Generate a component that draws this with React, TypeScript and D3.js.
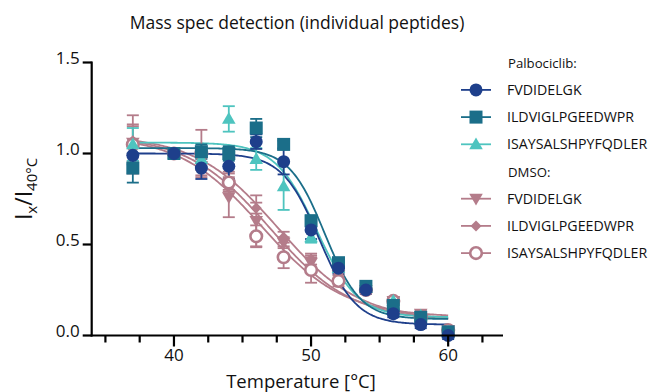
import React from "react";
import * as d3 from "d3";

const temps = [37, 40, 42, 44, 46, 48, 50, 52, 54, 56, 58, 60];

const palboFVD = [0.99, 1.0, 0.92, 0.93, 1.065, 0.955, 0.58, 0.37, 0.25, 0.12, 0.06, 0.0];
const palboFVDErr = [0.05, 0, 0.06, 0.07, 0.04, 0.07, 0.05, 0.03, 0.02, 0.02, 0.02, 0.02];
const palboILD = [0.92, 1.0, 1.01, 1.0, 1.14, 1.05, 0.63, 0.4, 0.27, 0.165, 0.1, 0.02];
const palboILDErr = [0.08, 0, 0.04, 0.04, 0.05, 0.02, 0.03, 0.02, 0.02, 0.02, 0.02, 0.02];
const palboISA = [1.05, 1.0, 0.97, 1.19, 0.97, 0.82, 0.54, 0.37, 0.26, 0.19, 0.11, 0.02];
const palboISAErr = [0.09, 0, 0.05, 0.07, 0.06, 0.13, 0.03, 0.02, 0.02, 0.02, 0.02, 0.02];

const dmsoFVD = [1.06, 1.0, 0.93, 0.76, 0.63, 0.51, 0.4, 0.33, 0.25, 0.19, 0.12, 0.03];
const dmsoFVDErr = [0.1, 0, 0.05, 0.11, 0.14, 0.03, 0.04, 0.03, 0.02, 0.02, 0.02, 0.02];
const dmsoILD = [1.07, 1.0, 0.97, 0.85, 0.7, 0.54, 0.42, 0.33, 0.26, 0.19, 0.11, 0.03];
const dmsoILDErr = [0.08, 0, 0.06, 0.05, 0.03, 0.03, 0.03, 0.02, 0.02, 0.02, 0.02, 0.02];
const dmsoISA = [1.05, 1.0, 1.0, 0.84, 0.545, 0.43, 0.36, 0.3, 0.25, 0.19, 0.1, 0.03];
const dmsoISAErr = [0.16, 0, 0.13, 0.05, 0.06, 0.06, 0.07, 0.03, 0.02, 0.02, 0.02, 0.02];

// Boltzmann fit parameters [top, bottom, Tm, slope]
const fitPalboFVD = [1.0, 0.06, 50.6, 1.35];
const fitPalboILD = [1.03, 0.09, 51.0, 1.3];
const fitPalboISA = [1.06, 0.1, 50.4, 1.5];
const fitDmsoFVD = [1.1, 0.08, 47.0, 3.0];
const fitDmsoILD = [1.1, 0.08, 47.6, 3.0];
const fitDmsoISA = [1.1, 0.1, 46.4, 3.0];

const xTicksMajor = [40, 50, 60];
const xTicksMinor = [35, 37.5, 42.5, 45, 47.5, 52.5, 55, 57.5, 62.5];
const yTicks = [0, 0.5, 1.0, 1.5];
const yTickLabels = ["0.0", "0.5", "1.0", "1.5"];

const C_DARK = "#1e3f8b";
const C_TEAL = "#1b6e89";
const C_LIGHT = "#4ec4bf";
const C_MAUVE = "#b47c8a";

type Shape = "circle" | "square" | "triUp" | "triDown" | "diamond" | "openCircle";

const series = [
  { name: "FVDIDELGK", vals: dmsoFVD, err: dmsoFVDErr, fit: fitDmsoFVD, color: C_MAUVE, shape: "triDown" as Shape, group: "DMSO" },
  { name: "ILDVIGLPGEEDWPR", vals: dmsoILD, err: dmsoILDErr, fit: fitDmsoILD, color: C_MAUVE, shape: "diamond" as Shape, group: "DMSO" },
  { name: "ISAYSALSHPYFQDLER", vals: dmsoISA, err: dmsoISAErr, fit: fitDmsoISA, color: C_MAUVE, shape: "openCircle" as Shape, group: "DMSO" },
  { name: "ISAYSALSHPYFQDLER", vals: palboISA, err: palboISAErr, fit: fitPalboISA, color: C_LIGHT, shape: "triUp" as Shape, group: "Palbociclib" },
  { name: "ILDVIGLPGEEDWPR", vals: palboILD, err: palboILDErr, fit: fitPalboILD, color: C_TEAL, shape: "square" as Shape, group: "Palbociclib" },
  { name: "FVDIDELGK", vals: palboFVD, err: palboFVDErr, fit: fitPalboFVD, color: C_DARK, shape: "circle" as Shape, group: "Palbociclib" },
];

const legendRows: { label: string; idx: number | null }[] = [
  { label: "Palbociclib:", idx: null },
  { label: "FVDIDELGK", idx: 5 },
  { label: "ILDVIGLPGEEDWPR", idx: 4 },
  { label: "ISAYSALSHPYFQDLER", idx: 3 },
  { label: "DMSO:", idx: null },
  { label: "FVDIDELGK", idx: 0 },
  { label: "ILDVIGLPGEEDWPR", idx: 1 },
  { label: "ISAYSALSHPYFQDLER", idx: 2 },
];

const FONT = "'Open Sans', Lato, sans-serif";

function Marker({ shape, color, x, y }: { shape: Shape; color: string; x: number; y: number }) {
  if (shape === "circle") return <circle cx={x} cy={y} r={6.5} fill={color} />;
  if (shape === "openCircle")
    return <circle cx={x} cy={y} r={5.8} fill="white" stroke={color} strokeWidth={2.6} />;
  if (shape === "square") return <rect x={x - 6.5} y={y - 6.5} width={13} height={13} fill={color} />;
  if (shape === "diamond") {
    const p = d3.symbol().type(d3.symbolSquare).size(60)();
    return <path d={p || ""} transform={`translate(${x},${y}) rotate(45)`} fill={color} />;
  }
  const p = d3.symbol().type(d3.symbolTriangle).size(80)();
  return (
    <path
      d={p || ""}
      transform={`translate(${x},${y + (shape === "triDown" ? -1 : 1)}) rotate(${shape === "triDown" ? 180 : 0})`}
      fill={color}
    />
  );
}

export default function App() {
  const W = 665, H = 392;
  const x = d3.scaleLinear().domain([34, 64]).range([91.7, 503]);
  const y = d3.scaleLinear().domain([0, 1.5]).range([335.5, 62.5]);

  const boltz = (f: number[], t: number) => f[1] + (f[0] - f[1]) / (1 + Math.exp((t - f[2]) / f[3]));
  const curveTs = d3.range(37, 60.001, 0.1);
  const line = d3
    .line<number>()
    .x((t) => x(t))
    .curve(d3.curveLinear);

  const capW = 6;

  return (
    <svg width={W} height={H} style={{ position: "absolute", left: 0, top: 0, background: "white" }} fontFamily={FONT}>
      {/* Title */}
      <text x={297} y={29} textAnchor="middle" fontSize={17.5} fill="#111">
        Mass spec detection (individual peptides)
      </text>

      {/* Curves */}
      {series.map((s, i) => (
        <path
          key={"c" + i}
          d={line.y((t) => y(boltz(s.fit, t)))(curveTs) || ""}
          fill="none"
          stroke={s.color}
          strokeWidth={1.8}
        />
      ))}

      {/* Error bars */}
      {series.map((s, i) => (
        <g key={"e" + i} stroke={s.color} strokeWidth={1.8}>
          {temps.map((t, j) =>
            s.err[j] > 0 ? (
              <g key={j}>
                <line x1={x(t)} x2={x(t)} y1={y(s.vals[j] + s.err[j])} y2={y(s.vals[j] - s.err[j])} />
                <line x1={x(t) - capW} x2={x(t) + capW} y1={y(s.vals[j] + s.err[j])} y2={y(s.vals[j] + s.err[j])} />
                <line x1={x(t) - capW} x2={x(t) + capW} y1={y(s.vals[j] - s.err[j])} y2={y(s.vals[j] - s.err[j])} />
              </g>
            ) : null
          )}
        </g>
      ))}

      {/* Markers */}
      {series.map((s, i) => (
        <g key={"m" + i}>
          {temps.map((t, j) => (
            <Marker key={j} shape={s.shape} color={s.color} x={x(t)} y={y(s.vals[j])} />
          ))}
        </g>
      ))}

      {/* Axes */}
      <g stroke="#000" strokeWidth={2.2}>
        <line x1={x(34)} x2={x(34)} y1={y(1.5) - 1} y2={y(0) + 1} />
        <line x1={x(34) - 1} x2={x(64)} y1={y(0)} y2={y(0)} />
        {yTicks.map((v) => (
          <line key={"yt" + v} x1={x(34) - 9} x2={x(34)} y1={y(v)} y2={y(v)} />
        ))}
        {xTicksMajor.map((v) => (
          <line key={"xM" + v} x1={x(v)} x2={x(v)} y1={y(0)} y2={y(0) + 11} />
        ))}
        {xTicksMinor.map((v) => (
          <line key={"xm" + v} x1={x(v)} x2={x(v)} y1={y(0)} y2={y(0) + 7} />
        ))}
      </g>
      {yTicks.map((v, i) => (
        <text key={"yl" + v} x={x(34) - 12} y={y(v) + 1} textAnchor="end" fontSize={17} fill="#111">
          {yTickLabels[i]}
        </text>
      ))}
      {xTicksMajor.map((v) => (
        <text key={"xl" + v} x={x(v)} y={361} textAnchor="middle" fontSize={17} fill="#111">
          {v}
        </text>
      ))}
      <text x={301} y={388} textAnchor="middle" fontSize={18.5} fill="#111">
        Temperature [°C]
      </text>
      <text transform="translate(32,189) rotate(-90)" textAnchor="middle" fontSize={23} fill="#111">
        I<tspan fontSize={15} dy={5}>x</tspan>
        <tspan dy={-5}>/I</tspan>
        <tspan fontSize={15} dy={5}>40°C</tspan>
      </text>

      {/* Legend */}
      {legendRows.map((r, i) => {
        const ly = 62.7 + i * 27.2;
        const s = r.idx !== null ? series[r.idx] : null;
        return (
          <g key={"lg" + i}>
            {s && (
              <>
                <line x1={461} x2={491} y1={ly} y2={ly} stroke={s.color} strokeWidth={1.8} />
                <Marker shape={s.shape} color={s.color} x={476} y={ly} />
              </>
            )}
            <text x={r.idx === null ? 508 : 507} y={ly + 5} fontSize={r.idx === null ? 13.2 : 14.2} fill="#111">
              {r.label}
            </text>
          </g>
        );
      })}
    </svg>
  );
}
